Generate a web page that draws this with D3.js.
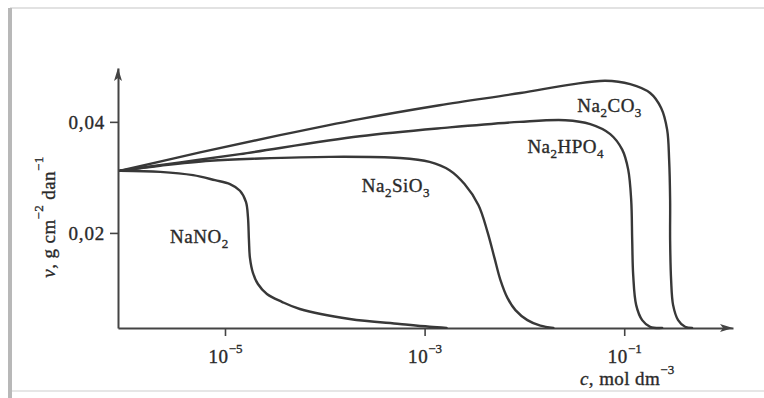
<!DOCTYPE html>
<html>
<head>
<meta charset="utf-8">
<script src="https://cdn.jsdelivr.net/npm/d3@7/dist/d3.min.js"></script>
<style>
  html, body { margin: 0; padding: 0; background: #fff; }
  svg { display: block; }
  text { font-family: "Liberation Serif", "Times New Roman", serif; fill: #2a2a2a; stroke: #2a2a2a; stroke-width: 0.35px; }
</style>
</head>
<body>
<svg id="chart" width="764" height="398"></svg>
<script>
// Corrosion rate v (g cm^-2 day^-1) against inhibitor concentration c (mol dm^-3).
// Concentrations are kept as log10(c); the axis is drawn in decades.

const seriesNames = ["NaNO2", "Na2SiO3", "Na2HPO4", "Na2CO3"];

const lgC_NaNO2 = [-6.05, -5.65, -5.32, -5.10, -4.95, -4.85, -4.79, -4.77, -4.76, -4.75, -4.72, -4.67, -4.58, -4.43, -4.25, -3.75, -3.25, -2.95, -2.78];
const v_NaNO2   = [0.0312, 0.0310, 0.0304, 0.0295, 0.0288, 0.0276, 0.0256, 0.0229, 0.0187, 0.0155, 0.0128, 0.0108, 0.0090, 0.0076, 0.0063, 0.0045, 0.0036, 0.0031, 0.0029];

const lgC_Na2SiO3 = [-6.05, -5.65, -5.15, -4.65, -3.95, -3.25, -2.95, -2.75, -2.60, -2.46, -2.37, -2.30, -2.24, -2.17, -2.09, -1.97, -1.84, -1.71];
const v_Na2SiO3   = [0.0312, 0.0321, 0.0330, 0.0334, 0.0337, 0.0335, 0.0328, 0.0313, 0.0288, 0.0250, 0.0202, 0.0155, 0.0115, 0.0083, 0.0061, 0.0043, 0.0033, 0.0029];

const lgC_Na2HPO4 = [-6.05, -5.45, -4.85, -3.65, -2.75, -2.05, -1.59, -1.34, -1.14, -1.02, -0.96, -0.93, -0.92, -0.91, -0.88, -0.82, -0.74, -0.62];
const v_Na2HPO4   = [0.0312, 0.0327, 0.0342, 0.0374, 0.0390, 0.0400, 0.0403, 0.0396, 0.0378, 0.0350, 0.0314, 0.0259, 0.0187, 0.0124, 0.0070, 0.0043, 0.0031, 0.0029];

const lgC_Na2CO3 = [-6.05, -5.25, -4.45, -3.65, -2.85, -2.04, -1.54, -1.19, -0.94, -0.74, -0.63, -0.57, -0.55, -0.54, -0.54, -0.53, -0.51, -0.46, -0.39, -0.32];
const v_Na2CO3   = [0.0312, 0.0345, 0.0376, 0.0405, 0.0430, 0.0452, 0.0467, 0.0474, 0.0468, 0.0452, 0.0425, 0.0386, 0.0332, 0.0259, 0.0187, 0.0115, 0.0070, 0.0043, 0.0031, 0.0029];

const xTickExponents = [-5, -3, -1];
const yTickValues = [0.02, 0.04];

const seriesX = [lgC_NaNO2, lgC_Na2SiO3, lgC_Na2HPO4, lgC_Na2CO3];
const seriesY = [v_NaNO2, v_Na2SiO3, v_Na2HPO4, v_Na2CO3];

const svg = d3.select("#chart");
const W = 764, H = 398;

// page frame
svg.append("rect").attr("x", 0).attr("y", 0).attr("width", W).attr("height", H).attr("fill", "#fff");
svg.append("line").attr("x1", 10).attr("x2", W).attr("y1", 8).attr("y2", 8)
  .attr("stroke", "#e2e2e2").attr("stroke-width", 2);
svg.append("line").attr("x1", 10).attr("x2", W).attr("y1", 391).attr("y2", 391)
  .attr("stroke", "#e6e6e6").attr("stroke-width", 2);
svg.append("line").attr("x1", 10).attr("x2", 10).attr("y1", 8).attr("y2", H)
  .attr("stroke", "#b8b8b8").attr("stroke-width", 4);

const x = d3.scaleLinear().domain([-6.072, 0.09]).range([118, 733]);
const y = d3.scaleLinear().domain([0.00288, 0.0497]).range([328, 68]);

const axisColor = "#444";
const ink = "#383838";

// y axis
const yAxis = svg.append("g").attr("transform", `translate(${x.range()[0]},0)`)
  .call(d3.axisLeft(y).tickValues(yTickValues).tickSize(8).tickSizeOuter(0)
    .tickFormat(d3.formatLocale({decimal: ",", thousands: " ", grouping: [3], currency: ["", ""]}).format(".2f")));
yAxis.select(".domain").attr("stroke", axisColor).attr("stroke-width", 2);
yAxis.selectAll(".tick line").attr("stroke", axisColor).attr("stroke-width", 1.6);
yAxis.selectAll(".tick text").attr("font-size", 19).attr("letter-spacing", 0.8)
  .attr("x", -13).attr("dy", "0.34em").attr("fill", "#2a2a2a")
  .style("font-family", "'Liberation Serif', serif");

// x axis
const xAxis = svg.append("g").attr("transform", `translate(0,${y.range()[0]})`)
  .call(d3.axisBottom(x).tickValues(xTickExponents).tickSize(8).tickSizeOuter(0));
xAxis.select(".domain").attr("stroke", axisColor).attr("stroke-width", 2);
xAxis.selectAll(".tick line").attr("stroke", axisColor).attr("stroke-width", 1.6);
xAxis.selectAll(".tick text").each(function (e) {
  const t = d3.select(this).text(null)
    .attr("y", 35).attr("dy", 0).attr("font-size", 19).attr("fill", "#2a2a2a")
    .style("font-family", "'Liberation Serif', serif");
  t.append("tspan").text("10").attr("letter-spacing", 0.6);
  t.append("tspan").text("\u2212" + Math.abs(e)).attr("font-size", 13).attr("dy", -10);
});

// arrowheads on both axes
const ax0 = x.range()[0], ay0 = y.range()[0];
const xEnd = x.range()[1], yEnd = y.range()[1];
svg.append("path")
  .attr("d", `M${xEnd},${ay0} L${xEnd - 13},${ay0 - 4} L${xEnd - 10},${ay0} L${xEnd - 13},${ay0 + 4} Z`)
  .attr("fill", axisColor);
svg.append("path")
  .attr("d", `M${ax0},${yEnd} L${ax0 - 4},${yEnd + 13} L${ax0},${yEnd + 10} L${ax0 + 4},${yEnd + 13} Z`)
  .attr("fill", axisColor);

// curves
const line = d3.line()
  .x(d => x(d[0]))
  .y(d => y(d[1]))
  .curve(d3.curveCatmullRom.alpha(0.5));

const g = svg.append("g");
seriesNames.forEach((name, i) => {
  const pts = seriesX[i].map((c, k) => [c, seriesY[i][k]]);
  g.append("path").datum(pts)
    .attr("d", line)
    .attr("fill", "none")
    .attr("stroke", ink)
    .attr("stroke-width", 2.4)
    .attr("stroke-linejoin", "round")
    .attr("stroke-linecap", "round");
});

// chemical formula labels, digits set as subscripts
const labelAt = [[-5.55, 0.0182], [-3.63, 0.0274], [-1.97, 0.0344], [-1.47, 0.0418]];
function formula(sel, name) {
  const parts = name.split(/(\d+)/).filter(s => s.length);
  let lowered = false;
  parts.forEach(p => {
    const isNum = /^\d+$/.test(p);
    const ts = sel.append("tspan").text(p);
    if (isNum) {
      ts.attr("font-size", 13).attr("dy", 5);
      lowered = true;
    } else if (lowered) {
      ts.attr("dy", -5);
      lowered = false;
    }
  });
}
seriesNames.forEach((name, i) => {
  const t = svg.append("text")
    .attr("x", x(labelAt[i][0])).attr("y", y(labelAt[i][1]))
    .attr("font-size", 19).attr("letter-spacing", 0.5);
  formula(t, name);
});

// axis titles
const xt = svg.append("text").attr("x", 580).attr("y", 385).attr("font-size", 19).attr("letter-spacing", 0.4);
xt.append("tspan").text("c").attr("font-style", "italic");
xt.append("tspan").text(", mol dm");
xt.append("tspan").text("\u22123").attr("font-size", 13).attr("dy", -11);

const yt = svg.append("text")
  .attr("transform", "translate(55,217) rotate(-90)")
  .attr("text-anchor", "middle").attr("font-size", 19).attr("letter-spacing", 0.4);
yt.append("tspan").text("v").attr("font-style", "italic");
yt.append("tspan").text(", g cm");
yt.append("tspan").text("\u22122").attr("font-size", 13).attr("dy", -12);
yt.append("tspan").text(" dan").attr("dy", 12);
yt.append("tspan").text("\u22121").attr("font-size", 13).attr("dy", -12);
</script>
</body>
</html>
